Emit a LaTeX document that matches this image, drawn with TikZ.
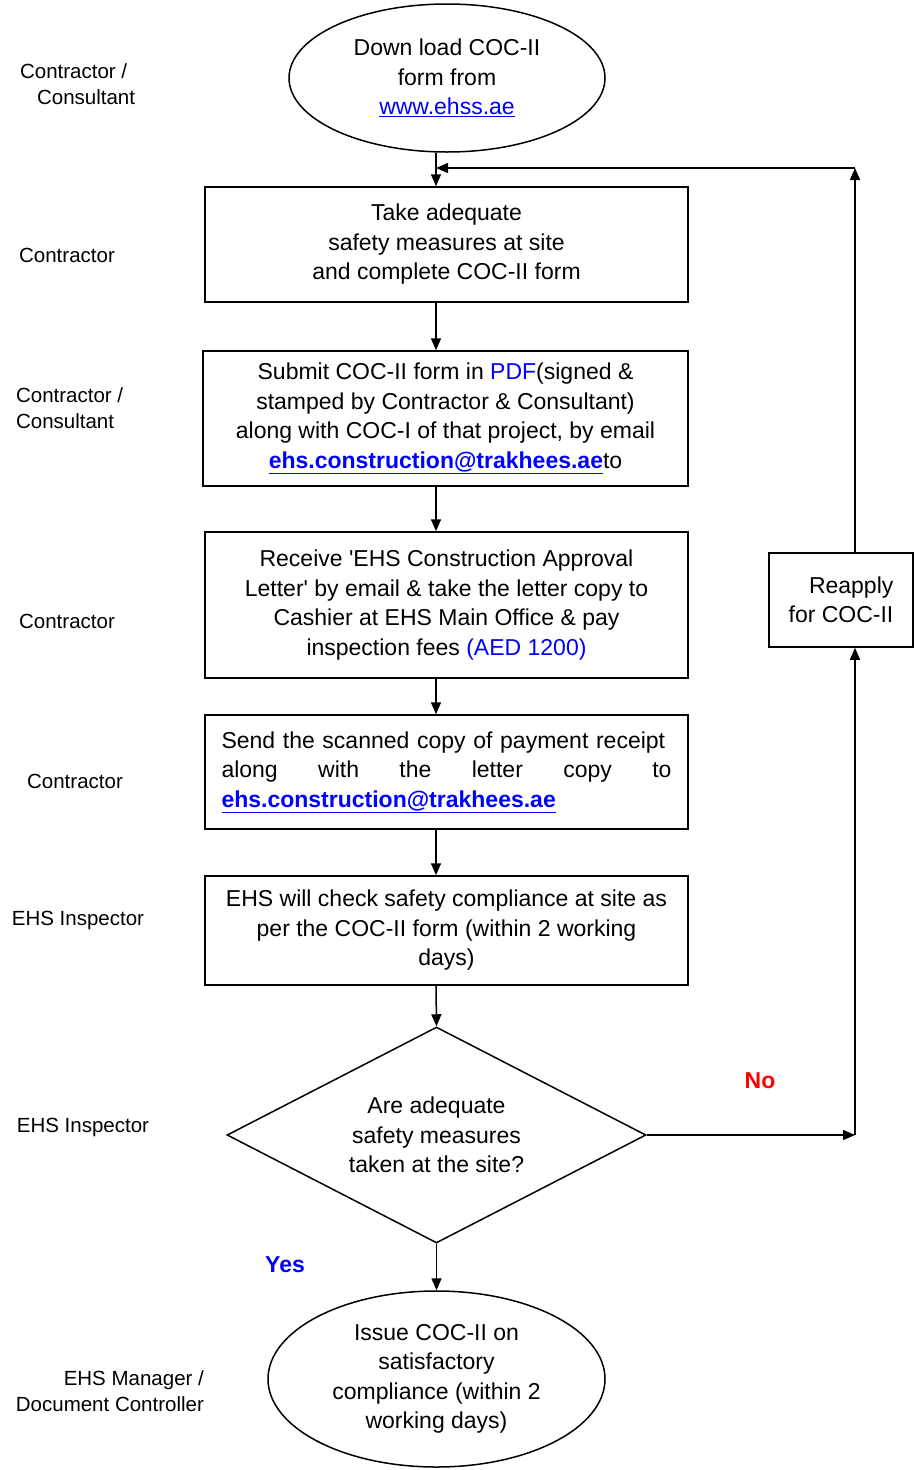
\documentclass[tikz,border=0pt]{standalone}
\usepackage{fontspec}
\setmainfont{Liberation Sans}
\usetikzlibrary{shapes.geometric,arrows.meta}
\definecolor{linkblue}{RGB}{0,0,255}
\definecolor{nored}{RGB}{255,0,0}
\newcommand\boxfont{\fontsize{23}{29.5}\selectfont}
\newcommand\rolefont{\fontsize{20.5}{26}\selectfont}
\newcommand\mailto{\textcolor{linkblue}{\underline{\textbf{ehs.construction@trakhees.ae}}}}

\begin{document}
\begin{tikzpicture}[x=1pt,y=-1pt,
    >={Triangle[length=12pt,width=10pt]},
    stepbox/.style={draw, rectangle, line width=1.5pt, inner sep=0pt, align=center, font=\boxfont},
    terminal/.style={draw, ellipse, line width=1.5pt, inner sep=0pt, align=center, font=\boxfont},
    decision/.style={draw, diamond, aspect=1.94, line width=1.5pt, inner sep=0pt, align=center, font=\boxfont},
    role/.style={font=\rolefont},
    answer/.style={font=\boxfont\bfseries},
    every path/.append style={line width=1.5pt}]
    \useasboundingbox (0,0) rectangle (914,1470);

    \coordinate (spine) at (436,0);
    \coordinate (back) at (855,168);

    \node[terminal, minimum width=316pt, minimum height=148pt] (download) at (447,78) {Down load COC-II\\ form from\\ \textcolor{linkblue}{\underline{www.ehss.ae}}};
    \node[stepbox, minimum width=483pt, minimum height=115pt] (take) at (446.5,244.5) {Take adequate\\ safety measures at site\\ and complete COC-II form};
    \node[stepbox, minimum width=485pt, minimum height=135pt] (submit) at (445.5,418.5) {Submit COC-II form in \textcolor{linkblue}{PDF}(signed \&\\ stamped by Contractor \& Consultant)\\ along with COC-I of that project, by email\\ \mailto to};
    \node[stepbox, minimum width=483pt, minimum height=146pt] (receive) at (446.5,605) {Receive \textquotesingle EHS Construction Approval\\ Letter\textquotesingle{} by email \& take the letter copy to\\ Cashier at EHS Main Office \& pay\\ inspection fees \textcolor{linkblue}{(AED 1200)}};
    \node[stepbox, minimum width=483pt, minimum height=114pt, text width=450pt, align=left] (send) at (446.5,772) {Send the scanned copy of payment receipt\\ along\hfill with\hfill the\hfill letter\hfill copy\hfill to\\ \mailto};
    \node[stepbox, minimum width=483pt, minimum height=109pt] (inspect) at (446.5,930.5) {EHS will check safety compliance at site as\\ per the COC-II form (within 2 working\\ days)};
    \node[decision, minimum width=419pt, minimum height=216pt] (check) at (436.5,1135) {Are adequate\\ safety measures\\ taken at the site?};
    \node[terminal, minimum width=337pt, minimum height=176pt] (issue) at (436.5,1379) {Issue COC-II on\\ satisfactory\\ compliance (within 2\\ working days)};
    \node[stepbox, minimum width=144pt, minimum height=94pt, align=right] (reapply) at (841,600) {Reapply\\ for COC-II};

    % who does what
    \node[role, align=left, anchor=west] (who1) at (16,84) {Contractor /\\ \hspace*{17pt}Consultant};
    \node[role] (who2) at (67,255) {Contractor};
    \node[role, align=left, anchor=west] (who3) at (12,408) {Contractor /\\ Consultant};
    \node[role] (who4) at (67,621) {Contractor};
    \node[role] (who5) at (75,781) {Contractor};
    \node[role] (who6) at (78,920) {EHS Inspector};
    \node[role] (who7) at (83,1127) {EHS Inspector};
    \node[role, align=right, anchor=east] (who8) at (208,1391) {EHS Manager /\\ Document Controller};

    \node[answer, text=nored] (no) at (760,1081) {No};
    \node[answer, text=linkblue] (yes) at (285,1265) {Yes};

    \draw[->] (download.south -| spine) -- (take.north -| spine);
    \draw[->] (take.south -| spine) -- (submit.north -| spine);
    \draw[->] (submit.south -| spine) -- (receive.north -| spine);
    \draw[->] (receive.south -| spine) -- (send.north -| spine);
    \draw[->] (send.south -| spine) -- (inspect.north -| spine);
    \draw[->] (inspect.south -| spine) -- (check.north);
    \draw[->] (check.south) -- (issue.north);

    % loop back
    \coordinate (turn) at (back |- check.east);
    \draw[->] (check.east) -- (turn);
    \draw[->] (turn) -- (reapply.south -| back);
    \draw[->] (reapply.north -| back) -- (back);
    \draw[->] (back) -- (spine |- back);
\end{tikzpicture}
\end{document}
